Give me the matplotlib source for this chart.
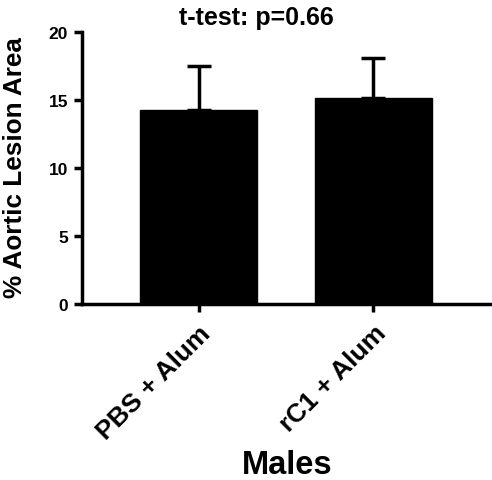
import matplotlib
matplotlib.use("Agg")
import matplotlib.pyplot as plt

# data
groups = ["PBS + Alum", "rC1 + Alum"]
means = [14.25, 15.15]
errs = [3.25, 2.95]

plt.rcParams['font.family'] = ['Liberation Sans', 'DejaVu Sans']
plt.rcParams['font.weight'] = 'bold'

W, H = 492, 481
fig = plt.figure(figsize=(W / 100, H / 100), dpi=100)
ax = fig.add_axes([82 / W, 1 - 305 / H, 408 / W, 272 / H])

x = list(range(len(groups)))
ax.bar(x, means, width=0.67, color='black', edgecolor='black', zorder=2)
ax.errorbar(x, means, yerr=[[0] * len(errs), errs], fmt='none', ecolor='black',
            elinewidth=2.5, capsize=8.5, capthick=2.5, zorder=1)

ax.set_xlim(-0.666, 1.666)
ax.set_ylim(0, 20)
ax.set_yticks([0, 5, 10, 15, 20])
ax.set_xticks(x)
ax.set_xticklabels(groups, rotation=45, ha='right', rotation_mode='anchor',
                   fontsize=19, fontweight='bold')
for lab in ax.get_yticklabels():
    lab.set_fontsize(12.5)
    lab.set_fontweight('bold')

for s in ['top', 'right']:
    ax.spines[s].set_visible(False)
for s in ['left', 'bottom']:
    ax.spines[s].set_linewidth(2.5)
ax.tick_params(axis='both', width=2.5, length=6, direction='out')
ax.tick_params(axis='y', pad=4)
ax.tick_params(axis='x', pad=6)

fig.text(15 / W, 1 - 168 / H, "% Aortic Lesion Area", rotation=90,
         fontsize=18.8, fontweight='bold', ha='center', va='center')
fig.text(256 / W, 1 - 25 / H, "t-test: p=0.66", fontsize=18, fontweight='bold',
         ha='center', va='baseline')
fig.text(287 / W, 1 - 474 / H, "Males", fontsize=23.5, fontweight='bold',
         ha='center', va='baseline')

fig.savefig("out.png", dpi=100)
